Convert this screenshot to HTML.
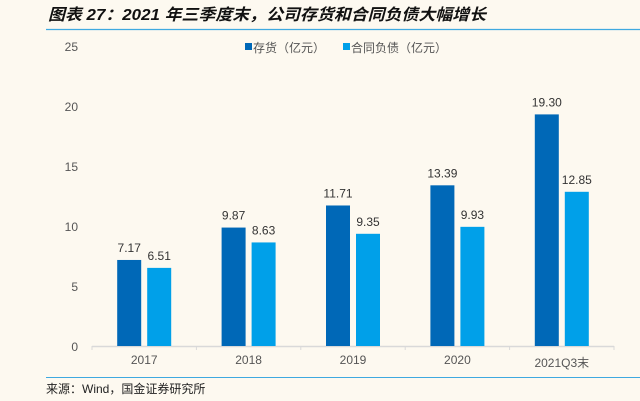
<!DOCTYPE html>
<html><head><meta charset="utf-8"><style>
body{margin:0;background:#fdf9f0;}
svg{display:block;font-family:"Liberation Sans","Noto Sans CJK SC",sans-serif;}
</style></head><body>
<svg width="640" height="401">
<rect width="640" height="401" fill="#fdf9f0"/>
<text x="48" y="20" font-size="16" font-weight="bold" font-style="italic" fill="#111" textLength="438" lengthAdjust="spacingAndGlyphs">图表 27：2021 年三季度末，公司存货和合同负债大幅增长</text>
<line x1="46" y1="29.5" x2="640" y2="29.5" stroke="#3fa9e0" stroke-width="1.2"/>
<g id="legend">
<rect x="245" y="43" width="7" height="7" fill="#0068b7"/>
<text x="253" y="52" font-size="12" fill="#555">存货（亿元）</text>
<rect x="343" y="43" width="7" height="7" fill="#00a0e9"/>
<text x="351" y="52" font-size="12" fill="#555">合同负债（亿元）</text>
</g>
<g id="axes"></g>
<g id="bars"></g>
<line x1="46" y1="377.5" x2="640" y2="377.5" stroke="#3fa9e0" stroke-width="1"/>
<text x="46" y="393" font-size="12" fill="#222">来源：Wind，国金证券研究所</text>
</svg>
<script>
const categories=["2017","2018","2019","2020","2021Q3末"];
const inventory=[7.17,9.87,11.71,13.39,19.30];
const contract=[6.51,8.63,9.35,9.93,12.85];
const yTicks=[0,5,10,15,20,25];
const NS="http://www.w3.org/2000/svg";
const x0=92,x1=614,yBase=346,yMax=25,yTop=46;
const bw=(x1-x0)/categories.length;
const y=v=>yBase-(v/yMax)*(yBase-yTop);
const cx=i=>x0+bw*(i+0.5);
function mk(t,a,p){const e=document.createElementNS(NS,t);for(const k in a)e.setAttribute(k,a[k]);p.appendChild(e);return e;}
const ax=document.getElementById('axes'),bg=document.getElementById('bars');
yTicks.forEach(t=>{const e=mk('text',{x:78,y:y(t)+5,'font-size':12,fill:'#555','text-anchor':'end'},ax);e.textContent=t;

});
const base=mk('line',{x1:x0,x2:x1,y1:yBase+0.5,y2:yBase+0.5,stroke:'#d9d9d9','stroke-width':1.5},ax);


for(let i=0;i<=categories.length;i++){const t=mk('line',{x1:x0+bw*i,x2:x0+bw*i,y1:yBase,y2:yBase+4,stroke:'#d9d9d9'},ax);

}
categories.forEach((c,i)=>{
const l=mk('text',{x:cx(i),y:i==4?367:364,'font-size':12,fill:'#555','text-anchor':'middle'},ax);l.textContent=c;


[[inventory,'#0068b7',-27,'inventory'],[contract,'#00a0e9',3,'contract']].forEach(([arr,col,off,nm])=>{
const v=arr[i];
const r=mk('rect',{x:cx(i)+off,y:y(v),width:24,height:yBase-y(v),fill:col},bg);


const t=mk('text',{x:cx(i)+off+12,y:y(v)-8,'font-size':12,fill:'#333','text-anchor':'middle'},bg);t.textContent=v.toFixed(2);


});});
</script>
</body></html>
